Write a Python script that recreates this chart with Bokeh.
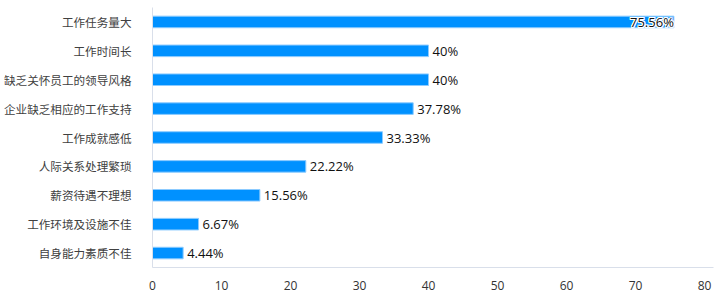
from bokeh.plotting import figure
from bokeh.models import ColumnDataSource, FixedTicker, Range1d
from bokeh.core.properties import value
from bokeh.embed import file_html
from bokeh.resources import INLINE

categories = ["工作任务量大", "工作时间长", "缺乏关怀员工的领导风格", "企业缺乏相应的工作支持",
              "工作成就感低", "人际关系处理繁琐", "薪资待遇不理想", "工作环境及设施不佳", "自身能力素质不佳"]
values = [75.56, 40, 40, 37.78, 33.33, 22.22, 15.56, 6.67, 4.44]
labels = ["75.56%", "40%", "40%", "37.78%", "33.33%", "22.22%", "15.56%", "6.67%", "4.44%"]
x_ticks = [0, 10, 20, 30, 40, 50, 60, 70, 80]

cats_rev = categories[::-1]
p = figure(width=716, height=292, y_range=cats_rev, x_range=Range1d(0, 81.3),
           output_backend="svg", toolbar_location=None,
           min_border_left=144, min_border_right=3, min_border_top=7, min_border_bottom=25)
p.outline_line_color = None
p.grid.grid_line_color = None
p.background_fill_color = "white"

src = ColumnDataSource(dict(cat=categories, val=values, lab=labels))
p.hbar(y="cat", right="val", left=0, height=0.4, source=src,
       fill_color="#0091FF", line_color="#8CCBFF", line_width=1)

inside = ColumnDataSource(dict(cat=categories[:1], val=values[:1], lab=labels[:1]))
outside = ColumnDataSource(dict(cat=categories[1:], val=values[1:], lab=labels[1:]))
p.text(x="val", y="cat", text="lab", source=outside, x_offset=4,
       text_align="left", text_baseline="middle", text_font_size="13px",
       text_font=value("Open Sans"), text_color="#111111")
for dx, dy in [(-1, 0), (1, 0), (0, -1), (0, 1), (-1, -1), (1, 1), (-1, 1), (1, -1)]:
    p.text(x="val", y="cat", text="lab", source=inside, x_offset=dx, y_offset=dy,
           text_align="right", text_baseline="middle", text_font_size="13px",
           text_font=value("Open Sans"), text_color="white")
p.text(x="val", y="cat", text="lab", source=inside, x_offset=0,
       text_align="right", text_baseline="middle", text_font_size="13px",
       text_font=value("Open Sans"), text_color="#111111")

p.xaxis.ticker = FixedTicker(ticks=x_ticks)
p.xaxis.major_tick_line_color = None
p.xaxis.minor_tick_line_color = None
p.xaxis.axis_line_color = "#D9DFEA"
p.xaxis.major_label_text_font = "Open Sans"
p.xaxis.major_label_text_font_size = "12px"
p.xaxis.major_label_text_color = "#333333"
p.xaxis.major_label_standoff = 7

p.yaxis.major_tick_line_color = None
p.yaxis.minor_tick_line_color = None
p.yaxis.axis_line_color = "#D9DFEA"
p.yaxis.major_label_text_font = "Noto Sans CJK SC"
p.yaxis.major_label_text_font_size = "11.6px"
p.yaxis.major_label_text_color = "#404040"
p.yaxis.major_label_standoff = 15

open("out.html", "w").write(file_html(p, INLINE))
